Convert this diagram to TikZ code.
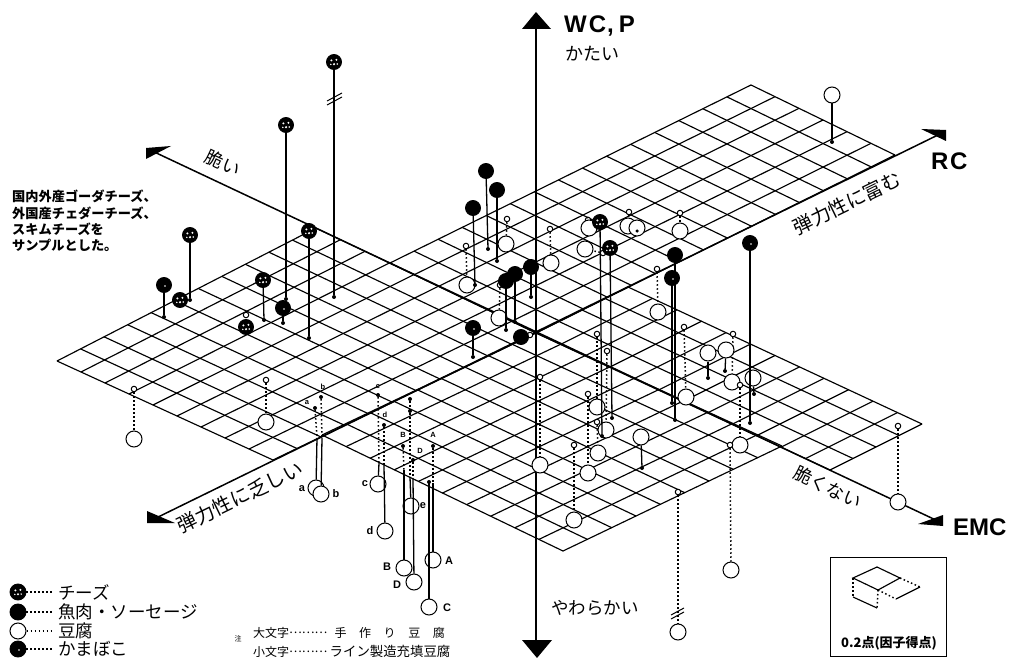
\documentclass[tikz,border=0pt]{standalone}
\usepackage{fontspec}
\setmainfont{Noto Sans CJK JP}
\newfontfamily\latinfont{Liberation Sans}
\usetikzlibrary{
calc,
arrows.meta
}
\tikzset{>=latex}
\tikzset{
	gridline/.style={line width=1.15pt},
	axisline/.style={line width=1.5pt},
	stemline/.style={line width=1.3pt},
	dotline/.style={line width=1.5pt,dash pattern=on 1.5pt off 2.5pt},
	ballbase/.style={circle,inner sep=0pt,minimum size=15pt,draw=black,line width=0.9pt},
	meatball/.style={ballbase,fill=black},
	kamaball/.style={ballbase,fill=black,path picture={
		\fill[white] ([xshift=1pt,yshift=-1pt]path picture bounding box.center) circle (0.9pt);}},
	cheeseball/.style={ballbase,fill=black,path picture={
		\fill[white] ([xshift=-2.6pt,yshift=1.6pt]path picture bounding box.center) circle (1.1pt);
		\fill[white] ([xshift=2.4pt,yshift=2.2pt]path picture bounding box.center) circle (1.1pt);
		\fill[white] ([xshift=0pt,yshift=-2.2pt]path picture bounding box.center) circle (1.2pt);
		\fill[white] ([xshift=3.2pt,yshift=-2pt]path picture bounding box.center) circle (0.8pt);
		\fill[white] ([xshift=-3.2pt,yshift=-2.4pt]path picture bounding box.center) circle (0.8pt);}},
	tofuball/.style={circle,inner sep=0pt,minimum size=16pt,draw=black,line width=1pt,fill=white},
	smalltofu/.style={circle,inner sep=0pt,minimum size=5.5pt,draw=black,line width=1pt,fill=white},
	basedot/.style={circle,inner sep=0pt,minimum size=4pt,fill=black},
	bigaxis/.style={font=\latinfont\bfseries\fontsize{24}{24}\selectfont,inner sep=0pt},
	jplabel/.style={inner sep=0pt,font=\fontsize{#1}{#1}\selectfont},
	smallletter/.style={inner sep=0pt,font=\latinfont\bfseries\fontsize{7.5}{8}\selectfont},
	bigletter/.style={inner sep=0pt,font=\latinfont\bfseries\fontsize{11}{11}\selectfont}
}
\newcommand{\gridsheet}[6]{
	\foreach \i in {0,...,#5} {
		\draw[gridline] ($(#1)!\i/#5!(#2)$) -- ($(#4)!\i/#5!(#3)$);
	}
	\foreach \j in {0,...,#6} {
		\draw[gridline] ($(#1)!\j/#6!(#4)$) -- ($(#2)!\j/#6!(#3)$);
	}
}
\newcommand{\keydots}{\raisebox{0.3em}{………}}
\begin{document}
\begin{tikzpicture}[x=1pt,y=-1pt]
		\useasboundingbox (0,0) rectangle (1012,658);

		\coordinate (center) at (536,333);
		\coordinate (leftB) at (316,228);
		\coordinate (leftC) at (57,361);
		\coordinate (leftD) at (273,460);
		\coordinate (topB) at (390,263);
		\coordinate (topC) at (751,85);
		\coordinate (topD) at (895,155);
		\coordinate (rightB) at (628,287);
		\coordinate (rightC) at (922,424);
		\coordinate (rightD) at (830,470);
		\coordinate (bottomB) at (782,446);
		\coordinate (bottomC) at (563,551);
		\coordinate (bottomD) at (322,435);

		\gridsheet{center}{leftB}{leftC}{leftD}{9}{11}
		\gridsheet{center}{topB}{topC}{topD}{6}{15}
		\gridsheet{center}{rightB}{rightC}{rightD}{4}{12}
		\gridsheet{center}{bottomB}{bottomC}{bottomD}{10}{9}

		\coordinate (emcminus) at (150,150);
		\coordinate (emcplus) at (940,522);
		\coordinate (rcminus) at (152,520);
		\coordinate (rcplus) at (942,133);
		\coordinate (wctop) at (536,20);
		\coordinate (wcbottom) at (536,648);

		\draw[axisline] (emcminus) -- (emcplus);
		\draw[axisline] (rcminus) -- (rcplus);
		\draw[axisline] (wctop) -- (wcbottom);

		\fill (146,148) -- (171,146) -- (146,159) -- cycle;
		\fill (147,511) -- (175,523) -- (147,523) -- cycle;
		\fill (943,515) -- (943,526) -- (918,524) -- cycle;
		\fill (921,129) -- (946,130) -- (946,141) -- cycle;
		\fill (536,12) -- (551,29) -- (522,29) -- cycle;
		\fill (537,658) -- (552,640) -- (522,640) -- cycle;

		\foreach \n/\bx/\by/\sx/\sy in {
			p1/134/439/134/389, p2/266/422/266/380, p3/467/285/466/246, p4/506/244/507/219,
			p5/551/263/550/229, p6/589/228/588/220, p7/628/226/629/212, p8/680/231/680/213,
			p9/658/312/657/269, p10/499/318/500/285, p11/597/407/597/334, p12/606/430/607/351,
			p13/588/473/588/394, p14/598/453/597/422, p15/574/520/574/445, p16/686/397/684/327,
			p17/732/382/733/334, p18/740/445/740/385, p19/731/570/730/445, p20/678/632/678/492,
			p21/540/465/540/377, p22/898/502/898/426, p23/585/249/603/253
		} {
			\node[smalltofu] (\n small) at (\sx,\sy) {};
			\node[tofuball] (\n big) at (\bx,\by) {};
			\draw[dotline] (\n small) -- (\n big);
		}

		\foreach \n/\bx/\by/\dx/\dy in {
			q1/832/95/832/142, q2/708/353/708/378, q3/726/350/725/371,
			q4/753/378/754/394, q5/641/437/642/468
		} {
			\node[basedot] (\n dot) at (\dx,\dy) {};
			\node[tofuball] (\n ball) at (\bx,\by) {};
			\draw[stemline] (\n ball) -- (\n dot);
		}

		\node[tofuball] (p24 big) at (637,228) {};
		\node[basedot,minimum size=3.5pt] (p24 dot) at (637,231) {};

		\foreach \n/\sx/\sy/\mx/\my in {
			la/315/408/317/438, lb/321/397/322/438,
			lc/378/395/379/463, ld/384/425/384/465,
			le/410/399/410/477, ub/403/446/404/470,
			ud/413/460/413/478, ua/433/446/433/483,
			uc/429/482/429/482
		} {
			\node[basedot] (\n dot) at (\sx,\sy) {};
			\coordinate (\n mid) at (\mx,\my);
			\draw[dotline] (\n dot) -- (\n mid);
		}
		\foreach \n/\bx/\by in {
			la/316/488, lb/321/494, lc/378/484, ld/385/531, le/411/506,
			ub/404/568, ud/414/582, ua/433/560, uc/429/607
		} {
			\node[tofuball] (\n big) at (\bx,\by) {};
			\draw[stemline] (\n mid) -- (\n big);
		}
		\node[basedot] (extradot) at (410,411) {};

		\node[smallletter] (labela) at (307,403) {a};
		\node[smallletter] (labelb) at (323,387) {b};
		\node[smallletter] (labelc) at (378,387) {c};
		\node[smallletter] (labeld) at (385,415) {d};
		\node[smallletter] (labelB) at (403,435) {B};
		\node[smallletter] (labelD) at (420,451) {D};
		\node[smallletter] (labelA) at (433,435) {A};
		\node[bigletter] (biga) at (302,489) {a};
		\node[bigletter] (bigb) at (336,494) {b};
		\node[bigletter] (bigc) at (365,484) {c};
		\node[bigletter] (bigd) at (370,531) {d};
		\node[bigletter] (bige) at (423,506) {e};
		\node[bigletter] (bigB) at (387,567) {B};
		\node[bigletter] (bigD) at (397,585) {D};
		\node[bigletter] (bigA) at (449,561) {A};
		\node[bigletter] (bigC) at (447,608) {C};

		\foreach \n/\kind/\tx/\ty/\dx/\dy in {
			c1/cheeseball/334/62/334/297, c2/cheeseball/286/125/286/299,
			c3/cheeseball/309/231/309/338, c4/cheeseball/190/235/190/300,
			c5/kamaball/164/285/164/317, c6/cheeseball/263/280/264/320,
			c7/kamaball/283/308/283/323,
			m1/meatball/486/171/488/249, m2/meatball/497/190/497/261,
			m3/meatball/473/208/475/285, m4/meatball/531/267/531/297,
			m5/meatball/515/274/515/322, m6/meatball/506/281/506/330,
			k1/kamaball/473/328/473/357,
			c8/cheeseball/600/222/602/436, c9/cheeseball/610/248/612/418,
			m7/meatball/675/255/675/420, m8/kamaball/672/278/672/403,
			k2/kamaball/750/243/750/423
		} {
			\node[basedot] (\n dot) at (\dx,\dy) {};
			\node[\kind] (\n ball) at (\tx,\ty) {};
			\draw[stemline] (\n ball) -- (\n dot);
		}
		\node[cheeseball] (c10 ball) at (180,300) {};
		\node[smalltofu] (c11 small) at (246,315) {};
		\node[cheeseball] (c11 ball) at (246,327) {};
		\node[smalltofu] (m9 small) at (530,335) {};
		\node[meatball] (m9 ball) at (521,337) {};

		\draw[line width=1pt] (327,101) -- (342,93);
		\draw[line width=1pt] (327,105) -- (342,97);
		\draw[line width=1pt] (671,615) -- (684,608);
		\draw[line width=1pt] (671,619) -- (684,612);

		\node[bigaxis,anchor=west] (wclabel) at (564,26) {W\kern2pt C\kern1pt,\kern5pt P};
		\node[bigaxis,anchor=west] (rclabel) at (931,161) {R\kern1.5pt C};
		\node[bigaxis,anchor=west] (emclabel) at (953,527) {EMC};
		\node[jplabel=18] (hard) at (592,54) {かたい};
		\node[jplabel=17.5] (soft) at (595,608) {やわらかい};
		\node[jplabel=18,rotate=-25] (brittle) at (223,163) {脆い};
		\node[jplabel=18,rotate=-26] (notbrittle) at (828,487) {脆くない};
		\node[jplabel=19.5,rotate=26] (richrc) at (847,203) {弾力性に富む};
		\node[jplabel=19.5,rotate=26] (poorrc) at (240,497) {弾力性に乏しい};

		\node[align=left,inner sep=0pt,anchor=north west,font=\bfseries\fontsize{13.2}{16.3}\selectfont] (samplenote) at (12,190) {国内外産ゴーダチーズ、\\外国産チェダーチーズ、\\スキムチーズを\\サンプルとした。};

		\node[cheeseball,minimum size=16pt] (legendcheese) at (18,592) {};
		\node[meatball,minimum size=16pt] (legendmeat) at (18,612) {};
		\node[tofuball] (legendtofu) at (18,631) {};
		\node[kamaball,minimum size=16pt] (legendkama) at (18,649) {};
		\foreach \n/\y/\txt in {
			legendcheese/592/チーズ, legendmeat/612/魚肉・ソーセージ,
			legendtofu/631/豆腐, legendkama/649/かまぼこ
		} {
			\node[inner sep=0pt,anchor=west,font=\fontsize{17.5}{17.5}\selectfont] (\n text) at (58,\y) {\txt};
			\coordinate (\n end) at (54,\y);
			\draw[dotline] (\n) -- (\n end);
		}

		\node[jplabel=7] (notemark) at (238,639) {注};
		\node[jplabel=12,anchor=west] (upperkey) at (253,633) {大文字\keydots\hspace{0.6em}手\hspace{1.05em}作\hspace{1.05em}り\hspace{1.05em}豆\hspace{1.05em}腐};
		\node[jplabel=12,anchor=west] (lowerkey) at (253,651) {小文字\keydots\hspace{0.2em}{\fontsize{13.4}{13.4}\selectfont ライン製造充填豆腐}};

		\coordinate (boxnw) at (830,557);
		\coordinate (boxse) at (946,656);
		\draw[line width=1pt] (boxnw) rectangle (boxse);
		\coordinate (cellw) at (853,578);
		\coordinate (celln) at (877,567);
		\coordinate (celle) at (900,578);
		\coordinate (cells) at (878,590);
		\coordinate (footw) at (853,597);
		\coordinate (foots) at (877,608);
		\coordinate (footn) at (896,599);
		\coordinate (foote) at (920,587);
		\draw[gridline] (cellw) -- (celln) -- (celle) -- (cells) -- cycle;
		\draw[gridline] (footw) -- (foots);
		\draw[gridline] (footn) -- (foote);
		\draw[dotline] (cellw) -- (footw);
		\draw[dotline] (cells) -- (foots);
		\draw[dotline] (cells) -- (footn);
		\draw[dotline] (celle) -- (foote);
		\node[font=\bfseries\fontsize{13}{13}\selectfont,inner sep=0pt] (boxcaption) at (889,643) {0.2点(因子得点)};
	\end{tikzpicture}
\end{document}
